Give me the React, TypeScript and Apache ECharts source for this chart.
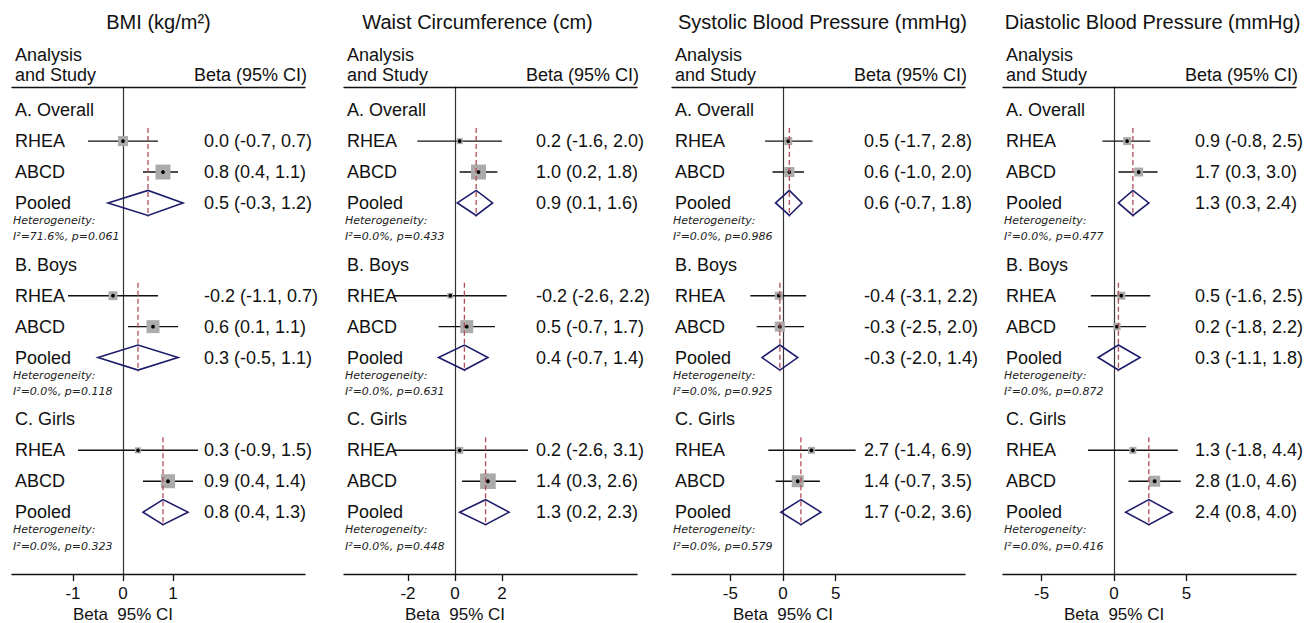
import React, { useEffect, useRef } from "react";
import * as echarts from "echarts";

// ---------- data ----------
const panelTitles = [
  "BMI (kg/m²)",
  "Waist Circumference (cm)",
  "Systolic Blood Pressure (mmHg)",
  "Diastolic Blood Pressure (mmHg)",
];
const groupLabels = ["A. Overall", "B. Boys", "C. Girls"];
const studyLabels = ["RHEA", "ABCD", "Pooled"];
const tickValues = [
  [-1, 0, 1],
  [-2, 0, 2],
  [-5, 0, 5],
  [-5, 0, 5],
];

// [group][study: RHEA, ABCD, Pooled]
const bmiEst = [[0.0, 0.8, 0.5], [-0.2, 0.6, 0.3], [0.3, 0.9, 0.8]];
const bmiLow = [[-0.7, 0.4, -0.3], [-1.1, 0.1, -0.5], [-0.9, 0.4, 0.4]];
const bmiHigh = [[0.7, 1.1, 1.2], [0.7, 1.1, 1.1], [1.5, 1.4, 1.3]];
const bmiWeight = [[33, 73], [26, 55], [12, 64]];
const bmiI2 = [71.6, 0.0, 0.0];
const bmiP = ["0.061", "0.118", "0.323"];

const waistEst = [[0.2, 1.0, 0.9], [-0.2, 0.5, 0.4], [0.2, 1.4, 1.3]];
const waistLow = [[-1.6, 0.2, 0.1], [-2.6, -0.7, -0.7], [-2.6, 0.3, 0.2]];
const waistHigh = [[2.0, 1.8, 1.6], [2.2, 1.7, 1.4], [3.1, 2.6, 2.3]];
const waistWeight = [[12, 73], [11, 55], [16, 80]];
const waistI2 = [0.0, 0.0, 0.0];
const waistP = ["0.433", "0.631", "0.448"];

const sbpEst = [[0.5, 0.6, 0.6], [-0.4, -0.3, -0.3], [2.7, 1.4, 1.7]];
const sbpLow = [[-1.7, -1.0, -0.7], [-3.1, -2.5, -2.0], [-1.4, -0.7, -0.2]];
const sbpHigh = [[2.8, 2.0, 1.8], [2.2, 2.0, 1.4], [6.9, 3.5, 3.6]];
const sbpWeight = [[21, 33], [21, 33], [16, 47]];
const sbpI2 = [0.0, 0.0, 0.0];
const sbpP = ["0.986", "0.925", "0.579"];

const dbpEst = [[0.9, 1.7, 1.3], [0.5, 0.2, 0.3], [1.3, 2.8, 2.4]];
const dbpLow = [[-0.8, 0.3, 0.3], [-1.6, -1.8, -1.1], [-1.8, 1.0, 0.8]];
const dbpHigh = [[2.5, 3.0, 2.4], [2.5, 2.2, 1.8], [4.4, 4.6, 4.0]];
const dbpWeight = [[21, 26], [21, 18], [16, 40]];
const dbpI2 = [0.0, 0.0, 0.0];
const dbpP = ["0.477", "0.872", "0.416"];

// axis extents of each panel (value units)
const axisMin = [-2.22, -4.72, -10.54, -7.66];
const axisMax = [3.64, 7.74, 17.28, 12.55];

// ---------- layout / style ----------
const panels = [
  { est: bmiEst, low: bmiLow, high: bmiHigh, weight: bmiWeight, i2: bmiI2, p: bmiP },
  { est: waistEst, low: waistLow, high: waistHigh, weight: waistWeight, i2: waistI2, p: waistP },
  { est: sbpEst, low: sbpLow, high: sbpHigh, weight: sbpWeight, i2: sbpI2, p: sbpP },
  { est: dbpEst, low: dbpLow, high: dbpHigh, weight: dbpWeight, i2: dbpI2, p: dbpP },
];
const gridLeft = [12, 344, 672, 1003];
const gridWidth = 293;
const gridTop = 87;
const gridHeight = 487;
const titleShift = [0, -13, 4, 3];
const FONT = '"Liberation Sans", Arial, Helvetica, sans-serif';
const TXT = "#111111";

function fmt(v: number) {
  return v.toFixed(1);
}

function makeRender(pi: number) {
  const d = panels[pi];
  return (params: any, api: any) => {
    const idx = params.dataIndex;
    const cs = params.coordSys;
    const kids: any[] = [];
    const text = (t: string, x: number, y: number, align: string, extra: any = {}) => ({
      type: "text",
      x,
      y,
      style: {
        text: t,
        fill: TXT,
        fontSize: 18,
        fontFamily: FONT,
        align,
        verticalAlign: "middle",
        ...extra,
      },
    });
    if (idx === 0) {
      kids.push(text(panelTitles[pi], cs.x + cs.width / 2 + titleShift[pi], cs.y - 65, "center", { fontSize: 20 }));
      kids.push(text("Analysis", cs.x + 3, cs.y - 32, "left"));
      kids.push(text("and Study", cs.x + 3, cs.y - 12, "left"));
      kids.push(text("Beta (95% CI)", cs.x + cs.width + 2, cs.y - 12, "right"));
      const zx = api.coord([0, 15])[0];
      kids.push(text("Beta  95% CI", zx, cs.y + cs.height + 40, "center", { fontSize: 17 }));
      return { type: "group", children: kids };
    }
    const g = Math.floor((idx - 1) / 3);
    const s = (idx - 1) % 3;
    const row = 5 * g + 1 + s;
    const est = d.est[g][s];
    const lo = d.low[g][s];
    const hi = d.high[g][s];
    const [ex, ey] = api.coord([est, row]);
    const lx = api.coord([lo, row])[0];
    const hx = api.coord([hi, row])[0];
    if (s === 0) {
      const gy = api.coord([0, 5 * g])[1];
      kids.push(text(groupLabels[g], cs.x + 3, gy, "left"));
    }
    kids.push(text(studyLabels[s], cs.x + 3, ey, "left"));
    kids.push(text(`${fmt(est)} (${fmt(lo)}, ${fmt(hi)})`, cs.x + 192, ey, "left"));
    if (s < 2) {
      const sz = 1.75 * Math.sqrt(d.weight[g][s]);
      kids.push({
        type: "line",
        shape: { x1: lx, y1: ey, x2: hx, y2: ey },
        style: { stroke: "#111", lineWidth: 1.4 },
      });
      kids.push({
        type: "rect",
        shape: { x: ex - sz / 2, y: ey - sz / 2, width: sz, height: sz },
        style: { fill: "#ababab" },
      });
      kids.push({
        type: "circle",
        shape: { cx: ex, cy: ey, r: 1.9 },
        style: { fill: "#000" },
      });
    } else {
      const h = 12.5;
      kids.push({
        type: "polygon",
        shape: { points: [[lx, ey], [ex, ey - h], [hx, ey], [ex, ey + h]] },
        style: { fill: "none", stroke: "#1d1d6b", lineWidth: 1.6 },
      });
      const y1 = api.coord([est, 5 * g + 1 - 0.42])[1];
      const y2 = api.coord([est, row + 0.45])[1];
      kids.push({
        type: "line",
        shape: { x1: ex, y1, x2: ex, y2 },
        style: { stroke: "#b24d5a", lineWidth: 1.3, lineDash: [5, 3] },
      });
      const hetFont = { fontSize: 11, fontFamily: '"DejaVu Sans", Verdana, sans-serif', fontStyle: "italic", fill: "#222" };
      kids.push(text("Heterogeneity:", cs.x + 1, ey + 17.5, "left", hetFont));
      kids.push(text(`I²=${d.i2[g].toFixed(1)}%, p=${d.p[g]}`, cs.x + 1, ey + 34, "left", hetFont));
    }
    return { type: "group", children: kids };
  };
}

function buildOption() {
  const grid: any[] = [];
  const xAxis: any[] = [];
  const yAxis: any[] = [];
  const series: any[] = [];
  for (let i = 0; i < 4; i++) {
    grid.push({ left: gridLeft[i], top: gridTop, width: gridWidth, height: gridHeight, containLabel: false });
    xAxis.push({
      gridIndex: i,
      type: "value",
      min: axisMin[i],
      max: axisMax[i],
      position: "bottom",
      axisLine: { show: true, onZero: false, lineStyle: { color: "#111", width: 1.4 } },
      axisTick: { show: true, customValues: tickValues[i], length: 7, lineStyle: { color: "#111", width: 1.3 } },
      axisLabel: { show: true, customValues: tickValues[i], fontSize: 17, fontFamily: FONT, color: TXT, margin: 11 },
      splitLine: { show: false },
    });
    xAxis.push({
      gridIndex: i,
      type: "value",
      min: axisMin[i],
      max: axisMax[i],
      position: "top",
      axisLine: { show: true, onZero: false, lineStyle: { color: "#111", width: 1.4 } },
      axisTick: { show: false },
      axisLabel: { show: false },
      splitLine: { show: false },
    });
    yAxis.push({
      gridIndex: i,
      type: "value",
      inverse: true,
      min: -0.75,
      max: 15,
      axisLine: { show: true, onZero: true, onZeroAxisIndex: 2 * i, lineStyle: { color: "#333", width: 1.2 } },
      axisTick: { show: false },
      axisLabel: { show: false },
      splitLine: { show: false },
    });
    const data: number[][] = [[0, -0.75]];
    for (let g = 0; g < 3; g++) {
      for (let s = 0; s < 3; s++) {
        data.push([panels[i].est[g][s], 5 * g + 1 + s]);
      }
    }
    series.push({
      type: "custom",
      xAxisIndex: 2 * i,
      yAxisIndex: i,
      clip: false,
      silent: true,
      encode: { x: 0, y: 1 },
      data,
      renderItem: makeRender(i),
    });
  }
  return {
    animation: false,
    backgroundColor: "#ffffff",
    grid,
    xAxis,
    yAxis,
    series,
  };
}

export default function App() {
  const ref = useRef<HTMLDivElement>(null);
  useEffect(() => {
    if (!ref.current) return;
    const chart = echarts.init(ref.current, undefined, { renderer: "svg" });
    chart.setOption(buildOption() as any);
    return () => chart.dispose();
  }, []);
  return (
    <div
      ref={ref}
      style={{ position: "fixed", left: 0, top: 0, width: 1313, height: 623, background: "#fff" }}
    />
  );
}
